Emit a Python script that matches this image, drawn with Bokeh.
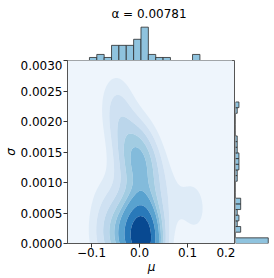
import numpy as np
from bokeh.plotting import figure
from bokeh.layouts import column, row
from bokeh.models import FixedTicker, NumeralTickFormatter, Range1d, Title
from bokeh.embed import file_html
from bokeh.resources import INLINE

# ---------------- data ----------------
title_text = "α = 0.00781"
x_label = "μ"
y_label = "σ"

# top marginal histogram of mu
mu_bin_start = -0.0955
mu_bin_width = 0.0149
mu_counts = [1, 2, 1, 5, 5, 5, 7, 11, 2, 1, 1, 0, 0, 0, 2]

# right marginal histogram of sigma
sigma_bin_start = 0.0
sigma_bin_width = 0.0000928
sigma_counts = [19, 0, 3, 1, 2, 1, 3, 3, 0, 0, 0, 1, 1, 2, 2, 2, 1, 1, 1, 0, 0, 0, 0, 1, 2]

# (mu, sigma) sample behind the 2-D density
sample_mu = [-0.090, -0.070, -0.055, -0.045, -0.038, -0.028, -0.020, -0.012, -0.006, -0.002,
             0.002, 0.005, 0.008, 0.011, 0.014, 0.017, 0.020, 0.023, 0.030, 0.004, 0.016,
             -0.010, 0.015, 0.000, -0.020, 0.020, 0.012,
             0.113, 0.118, -0.050, -0.080, 0.065,
             0.040, 0.005, 0.020, -0.030, 0.015, -0.010, 0.010, -0.020,
             -0.015, 0.000, -0.040, -0.055, -0.050, -0.035]
sample_sigma = [0.00004, 0.00007, 0.00002, 0.00005, 0.00008, 0.00003, 0.00006, 0.00001, 0.00004, 0.00007,
                0.00002, 0.00005, 0.00008, 0.00003, 0.00006, 0.00002, 0.00005, 0.00002, 0.00004, 0.00003, 0.00006,
                0.00023, 0.00024, 0.00033, 0.00042, 0.00041, 0.00051,
                0.00060, 0.00062, 0.00059, 0.00070, 0.00071,
                0.00107, 0.00116, 0.00125, 0.00126, 0.00134, 0.00135, 0.00144, 0.00143,
                0.00153, 0.00163, 0.00172, 0.00218, 0.00227, 0.00229]

x_ticks = [-0.1, 0.0, 0.1, 0.2]
x_tick_labels = ["−0.1", "0.0", "0.1", "0.2"]
y_ticks = [0.0, 0.0005, 0.001, 0.0015, 0.002, 0.0025, 0.003]

# ---------------- style ----------------
FONT = "DejaVu Sans"
HIST_FILL = "#8fc3de"
HIST_LINE = "#2b2b2b"
SPINE = "#555555"
BLUES = ["#f7fbff", "#deebf7", "#c6dbef", "#9ecae1", "#6baed6",
         "#4292c6", "#2171b5", "#08519c", "#08306b"]
BW_ADJUST = 1.15

# ---------------- 2-D gaussian KDE (Scott's rule, full covariance) ----------------
pts = np.vstack([sample_mu, sample_sigma])
n = pts.shape[1]
factor = n ** (-1.0 / 6.0) * BW_ADJUST
kcov = np.cov(pts) * factor ** 2
kinv = np.linalg.inv(kcov)
bw = np.sqrt(np.diag(kcov))
gx = np.linspace(pts[0].min() - 3 * bw[0], pts[0].max() + 3 * bw[0], 200)
gy = np.linspace(pts[1].min() - 3 * bw[1], pts[1].max() + 3 * bw[1], 200)
XX, YY = np.meshgrid(gx, gy)
D = np.zeros_like(XX)
for i in range(n):
    dx = XX - pts[0, i]
    dy = YY - pts[1, i]
    q = kinv[0, 0] * dx * dx + 2 * kinv[0, 1] * dx * dy + kinv[1, 1] * dy * dy
    D += np.exp(-0.5 * q)

iso = np.linspace(0, 1, 10)
vals = np.sort(D.ravel())[::-1]
cum = np.cumsum(vals) / vals.sum()
idx = np.searchsorted(cum, 1 - iso)
levels = np.sort(np.take(vals, idx, mode="clip").astype(float))
levels[0] = D.min() - 1e-12
levels[-1] = D.max() + 1e-12


def blues(t):
    t = min(max(t, 0.0), 1.0) * (len(BLUES) - 1)
    i = min(int(t), len(BLUES) - 2)
    f = t - i
    a, b = BLUES[i], BLUES[i + 1]
    ca = [int(a[k:k + 2], 16) for k in (1, 3, 5)]
    cb = [int(b[k:k + 2], 16) for k in (1, 3, 5)]
    return "#%02x%02x%02x" % tuple(round(ca[j] + (cb[j] - ca[j]) * f) for j in range(3))


mids = (levels[:-1] + levels[1:]) / 2
band_colors = [blues((m - levels[0]) / (levels[-1] - levels[0])) for m in mids]

# ---------------- figures ----------------
xr = Range1d(-0.15, 0.2)
yr = Range1d(0.0, 0.003)

FRAME_W = 173
FRAME_H = 184
LEFT = 62
BOTTOM = 32
TOPB = 23
MARG_H = 37
MARG_W = 38

main = figure(width=LEFT + FRAME_W, height=FRAME_H + BOTTOM, x_range=xr, y_range=yr,
              toolbar_location=None, output_backend="svg",
              min_border_left=LEFT, min_border_right=0, min_border_top=0, min_border_bottom=BOTTOM)
main.contour(x=gx, y=gy, z=D, levels=list(levels), fill_color=band_colors, line_color=None)
main.grid.visible = False
main.outline_line_color = SPINE
main.outline_line_width = 1
main.background_fill_color = band_colors[0]

main.xaxis.ticker = FixedTicker(ticks=x_ticks)
main.xaxis.major_label_overrides = {t: s for t, s in zip(x_ticks, x_tick_labels)}
main.yaxis.ticker = FixedTicker(ticks=y_ticks)
main.yaxis.formatter = NumeralTickFormatter(format="0.0000")
for ax in (main.xaxis[0], main.yaxis[0]):
    ax.axis_line_color = SPINE
    ax.major_tick_line_color = "#333333"
    ax.major_tick_out = 4
    ax.major_tick_in = 0
    ax.minor_tick_line_color = None
    ax.major_label_text_font = FONT
    ax.major_label_text_font_size = "12px"
    ax.major_label_text_color = "black"
    ax.axis_label_text_font = FONT
    ax.axis_label_text_font_size = "12px"
    ax.axis_label_text_font_style = "italic"
    ax.axis_label_text_color = "black"
    ax.axis_label_standoff = 0
main.xaxis.major_label_standoff = 0
main.yaxis.major_label_standoff = 1
main.xaxis.axis_label = x_label
main.yaxis.axis_label = y_label

# top marginal
mu_left = [mu_bin_start + i * mu_bin_width for i in range(len(mu_counts))]
mu_right = [l + mu_bin_width for l in mu_left]
top = figure(width=LEFT + FRAME_W, height=MARG_H + TOPB, x_range=xr,
             y_range=Range1d(0, max(mu_counts) * 1.05),
             toolbar_location=None, output_backend="svg",
             min_border_left=LEFT, min_border_right=0, min_border_top=TOPB, min_border_bottom=0)
top.quad(left=mu_left, right=mu_right, bottom=0, top=mu_counts,
         fill_color=HIST_FILL, line_color=HIST_LINE, line_width=0.8)
top.axis.visible = False
top.grid.visible = False
top.outline_line_color = None
top.title = Title(text=title_text, align="center", text_font=FONT, text_font_size="12px",
                  text_font_style="normal", text_color="black", standoff=9, offset=0)

# right marginal
s_bottom = [sigma_bin_start + i * sigma_bin_width for i in range(len(sigma_counts))]
s_top = [b + sigma_bin_width for b in s_bottom]
right = figure(width=MARG_W, height=FRAME_H + BOTTOM, y_range=yr,
               x_range=Range1d(0, max(sigma_counts) * 1.16),
               toolbar_location=None, output_backend="svg",
               min_border_left=0, min_border_right=0, min_border_top=0, min_border_bottom=BOTTOM)
right.quad(left=0, right=sigma_counts, bottom=s_bottom, top=s_top,
           fill_color=HIST_FILL, line_color=HIST_LINE, line_width=0.8)
right.axis.visible = False
right.grid.visible = False
right.outline_line_color = None

layout = column(top, row(main, right, spacing=0), spacing=0)
open("out.html", "w").write(file_html(layout, INLINE))
